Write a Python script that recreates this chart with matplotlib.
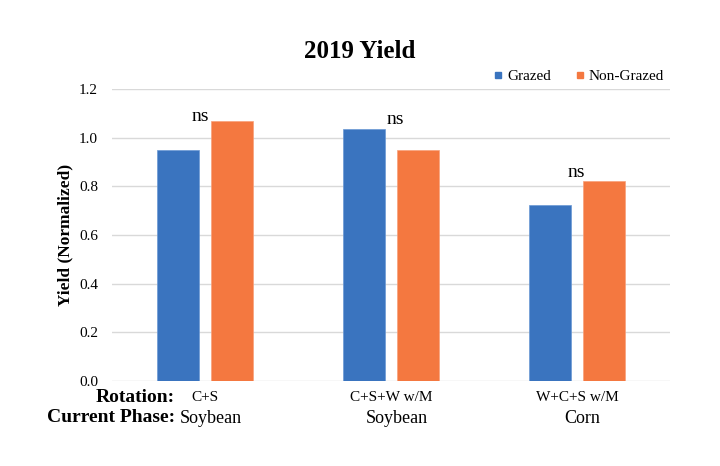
import matplotlib
matplotlib.use("Agg")
import matplotlib.pyplot as plt
import matplotlib.transforms as mtransforms
from matplotlib.lines import Line2D
import numpy as np

plt.rcParams.update({"font.family": ["Liberation Serif", "DejaVu Serif"]})

rotations = ["C+S", "C+S+W w/M", "W+C+S w/M"]
phases = ["Soybean", "Soybean", "Corn"]
grazed = [0.95, 1.035, 0.725]
non_grazed = [1.07, 0.95, 0.82]
sig_labels = ["ns", "ns", "ns"]

BLUE = "#3A74BF"
ORANGE = "#F47840"

fig = plt.figure(figsize=(7.2, 4.66), dpi=100)
ax = fig.add_axes([0.1556, 0.1824, 0.775, 0.6266])

x = np.arange(len(rotations))
width = 0.226
off = 0.144
ax.bar(x - off, grazed, width, color=BLUE, edgecolor="#6A98D4", linewidth=0.5, zorder=3)
ax.bar(x + off, non_grazed, width, color=ORANGE, edgecolor="#F8A07A", linewidth=0.5, zorder=3)

# "ns" marks sit just above the taller bar of each pair
ns_dx = [-0.027, 0.022, -0.005]
ns_dy = [0.0, 0.02, 0.02]
for i, lab in enumerate(sig_labels):
    top = max(grazed[i], non_grazed[i])
    ax.text(x[i] + ns_dx[i], top + ns_dy[i], lab, ha="center", va="baseline", fontsize=14)

ax.set_xlim(-0.5, 2.5)
ax.set_ylim(0, 1.2)
ax.set_yticks(np.arange(0, 1.21, 0.2))
ax.set_yticklabels([f"{v:.1f}" for v in np.arange(0, 1.21, 0.2)], fontsize=11)
ax.set_xticks([])
ax.tick_params(axis="y", length=0, pad=10)
ax.grid(axis="y", color="#D9D9D9", linewidth=1.0, zorder=0)
for s in ax.spines.values():
    s.set_visible(False)

ax.set_ylabel("Yield (Normalized)", fontsize=12.5, fontweight="bold", labelpad=4)

trans = mtransforms.blended_transform_factory(ax.transData, ax.transAxes)
for i in range(len(rotations)):
    ax.text(x[i], -0.055, rotations[i], transform=trans, ha="center", va="center", fontsize=11)
    ax.text(x[i] + 0.03, -0.127, phases[i], transform=trans, ha="center", va="center", fontsize=13)

fig.text(175 / 720, 1 - 397 / 466, "Rotation:", ha="right", va="center", fontsize=14, fontweight="bold")
fig.text(175 / 720, 1 - 418 / 466, "Current Phase:", ha="right", va="center", fontsize=14, fontweight="bold")

fig.text(0.5, 1 - 52 / 466, "2019 Yield", ha="center", va="center", fontsize=18, fontweight="bold")

handles = [
    Line2D([], [], marker="s", linestyle="none", color=BLUE, markersize=5),
    Line2D([], [], marker="s", linestyle="none", color=ORANGE, markersize=5),
]
fig.legend(handles, ["Grazed", "Non-Grazed"], loc="center right",
           bbox_to_anchor=(678 / 720, 1 - 76 / 466), ncol=2, frameon=False,
           fontsize=11, handlelength=0.6, handletextpad=0.3, columnspacing=1.6)

fig.savefig("out.png", dpi=100)
